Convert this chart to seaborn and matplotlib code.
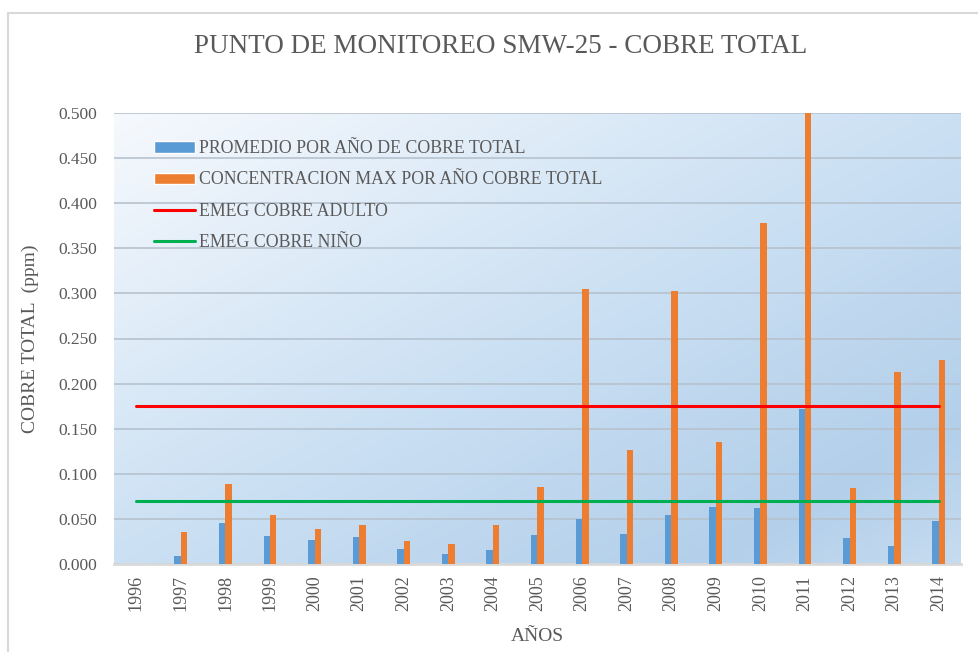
import numpy as np
import pandas as pd
import matplotlib
matplotlib.use("Agg")
import matplotlib.pyplot as plt
import seaborn as sns
from matplotlib.colors import LinearSegmentedColormap
from matplotlib.patches import Rectangle, Patch
from matplotlib.lines import Line2D

# Datos
anios = ['1996', '1997', '1998', '1999', '2000', '2001', '2002', '2003', '2004', '2005',
         '2006', '2007', '2008', '2009', '2010', '2011', '2012', '2013', '2014']
promedio = [0.000, 0.009, 0.045, 0.031, 0.027, 0.030, 0.017, 0.011, 0.015, 0.032,
            0.050, 0.033, 0.054, 0.063, 0.062, 0.172, 0.029, 0.020, 0.048]
maximo = [0.000, 0.036, 0.089, 0.054, 0.039, 0.043, 0.026, 0.022, 0.043, 0.085,
          0.305, 0.126, 0.303, 0.135, 0.378, 0.500, 0.084, 0.213, 0.226]
emeg_adulto = 0.175
emeg_nino = 0.070

serie_prom = 'PROMEDIO POR AÑO DE COBRE TOTAL'
serie_max = 'CONCENTRACION MAX POR AÑO COBRE TOTAL'

df = pd.DataFrame({
    'anio': anios * 2,
    'valor': promedio + maximo,
    'serie': [serie_prom] * len(anios) + [serie_max] * len(anios),
})

sns.set_style('white')
plt.rcParams['font.family'] = ['Liberation Serif', 'DejaVu Serif']
gris = '#595959'

fig = plt.figure(figsize=(9.79, 6.52), dpi=100)
ax = fig.add_axes([114 / 979, 88 / 652, 847 / 979, 451 / 652])

# Fondo degradado del area de trazado
cmap = LinearSegmentedColormap.from_list('fondo', [
    (0.0, (246 / 255, 249 / 255, 253 / 255)),
    (0.5, (203 / 255, 224 / 255, 243 / 255)),
    (0.85, (179 / 255, 207 / 255, 234 / 255)),
    (1.0, (198 / 255, 220 / 255, 240 / 255)),
])
gx, gy = np.meshgrid(np.linspace(0, 1, 300), np.linspace(1, 0, 200))
ax.imshow((gx + (1 - gy)) / 2, cmap=cmap, extent=(0, 1, 0, 1), transform=ax.transAxes,
          aspect='auto', zorder=0, interpolation='bilinear')

sns.barplot(data=df, x='anio', y='valor', hue='serie', order=anios,
            palette=['#5B9BD5', '#ED7D31'], width=0.29, gap=0, saturation=1,
            linewidth=0, dodge=True, ax=ax, zorder=3, legend=False)

xs = np.arange(len(anios))
ax.plot(xs, np.full(len(anios), emeg_adulto), color='#FF0000', lw=2.2, zorder=4)
ax.plot(xs, np.full(len(anios), emeg_nino), color='#00B050', lw=2.2, zorder=4)

ax.set_xlim(-0.5, len(anios) - 0.5)
ax.set_ylim(0, 0.5)
ax.set_yticks(np.arange(0, 0.501, 0.05))
ax.set_yticklabels([f'{v:.3f}' for v in np.arange(0, 0.501, 0.05)])
ax.grid(axis='y', color='#b6c2ce', lw=1.2, zorder=1)
ax.set_axisbelow(True)
ax.tick_params(axis='x', rotation=90, labelsize=13, colors=gris, length=0, pad=8)
ax.tick_params(axis='y', labelsize=12.5, colors=gris, length=0, pad=12)
for s in ['top', 'right', 'left']:
    ax.spines[s].set_visible(False)
ax.spines['bottom'].set_color('#d9d9d9')
ax.spines['bottom'].set_linewidth(2)

ax.set_xlabel('AÑOS', fontsize=14, color=gris, labelpad=12)
ax.set_ylabel('COBRE TOTAL  (ppm)', fontsize=14, color=gris, labelpad=14)
fig.text(0.511, 0.928, 'PUNTO DE MONITOREO SMW-25 - COBRE TOTAL', ha='center', va='center',
         fontsize=19.5, color=gris)

handles = [
    Patch(facecolor='#5B9BD5', label=serie_prom),
    Patch(facecolor='#ED7D31', label=serie_max),
    Line2D([0], [0], color='#FF0000', lw=2.2, label='EMEG COBRE ADULTO'),
    Line2D([0], [0], color='#00B050', lw=2.2, label='EMEG COBRE NIÑO'),
]
leg = ax.legend(handles=handles, loc='upper left', bbox_to_anchor=(0.028, 0.975), frameon=False,
                fontsize=12.8, labelcolor=gris, handlelength=2.3, handleheight=0.6,
                handletextpad=0.25, labelspacing=0.8)

# Borde del area del grafico
fig.patches.append(Rectangle((8 / 979, -0.05), 1.2, 1 - 13 / 652 + 0.05, transform=fig.transFigure,
                             fill=False, edgecolor='#d9d9d9', lw=1.5))

fig.savefig('out.png', dpi=100)
